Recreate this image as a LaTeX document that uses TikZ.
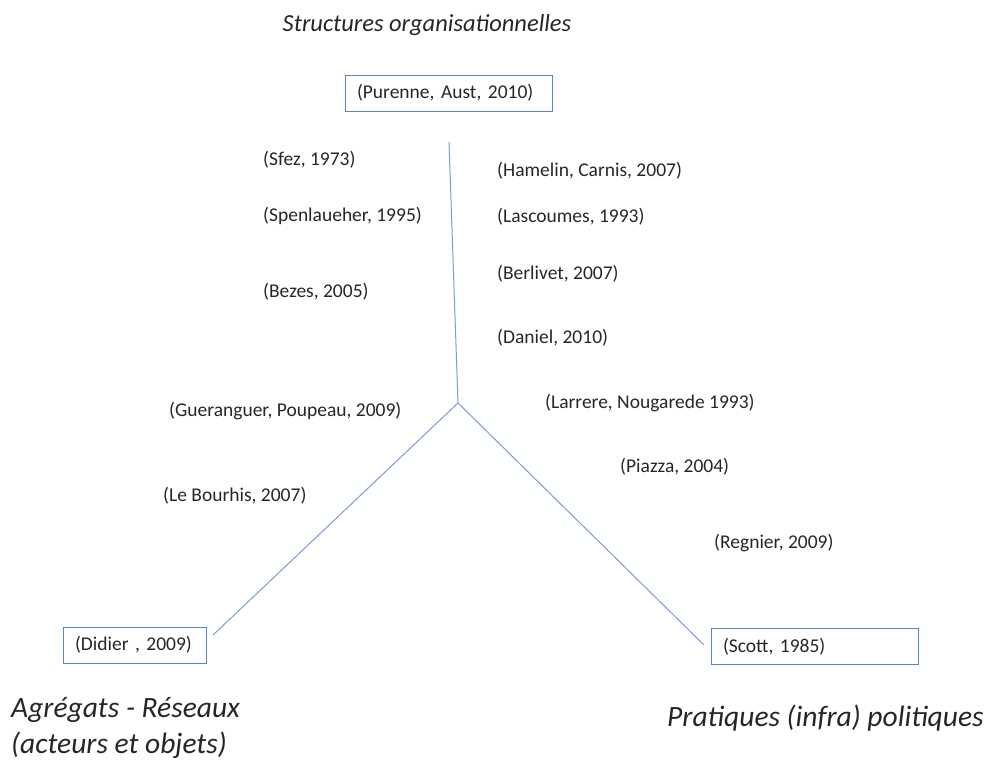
\documentclass[tikz,border=0pt]{standalone}
\usepackage{fontspec}
\setmainfont{Carlito}
\usepackage{tikz}

\definecolor{axisblue}{RGB}{120,158,208}
\definecolor{boxblue}{RGB}{92,132,184}
\definecolor{inkgray}{RGB}{38,38,38}

\tikzset{
  ref/.style={anchor=west, inner sep=0pt, text=inkgray, font=\fontsize{19.5}{23}\selectfont},
  pole/.style={draw=boxblue, line width=0.9pt, text=inkgray, align=left, inner xsep=12pt,
    minimum height=36pt, font=\fontsize{19.5}{23}\selectfont},
  axe/.style={text=inkgray, inner sep=0pt, align=left, font=\fontsize{29.5}{36}\selectfont\itshape},
  branch/.style={draw=axisblue, line width=1pt}
}

\begin{document}
\begin{tikzpicture}[x=1pt, y=-1pt]
\useasboundingbox (0,0) rectangle (992,762);
%%%%%%%%%%%%%%%%%%%%%%%%%%%%%%%
% poles
%%%%%%%%%%%%%%%%%%%%%%%%%%%%%%%
\node [axe, font=\fontsize{24.5}{30}\selectfont\itshape] (titre) at (427,25) {Structures organisationnelles};
\node [axe, anchor=west] (agregats) at (11,728) {Agrégats - Réseaux\\(acteurs et objets)};
\node [axe, anchor=west] (pratiques) at (667,718) {Pratiques (infra) politiques};
%
\node [pole, text width=183pt] (purenne) at (448.5,93) {\mbox{(Purenne, Aust, 2010)}};
\node [pole, text width=119pt] (didier) at (134.5,645) {\mbox{(Didier , 2009)}};
\node [pole, text width=183pt] (scott) at (814.5,646.5) {\mbox{(Scott, 1985)}};
%
\coordinate (centre) at (458,403);
\coordinate (haut) at (449,142);
\coordinate (gauche) at (213,635);
\coordinate (droite) at (704,645);
\draw [branch] (haut) -- (centre);
\draw [branch] (centre) -- (gauche);
\draw [branch] (centre) -- (droite);
%%%%%%%%%%%%%%%%%%%%%%%%%%%%%%%
% references
%%%%%%%%%%%%%%%%%%%%%%%%%%%%%%%
\node [ref] (sfez) at (263,160) {(Sfez, 1973)};
\node [ref] (spenlaueher) at (263,216) {(Spenlaueher, 1995)};
\node [ref] (bezes) at (263,292) {(Bezes, 2005)};
\node [ref] (gueranguer) at (169,411) {(Gueranguer, Poupeau, 2009)};
\node [ref] (bourhis) at (163,496) {(Le Bourhis, 2007)};
%
\node [ref] (hamelin) at (497,171) {(Hamelin, Carnis, 2007)};
\node [ref] (lascoumes) at (497,217) {(Lascoumes, 1993)};
\node [ref] (berlivet) at (497,274) {(Berlivet, 2007)};
\node [ref] (daniel) at (497,338) {(Daniel, 2010)};
\node [ref] (larrere) at (545,403) {(Larrere, Nougarede 1993)};
\node [ref] (piazza) at (620,467) {(Piazza, 2004)};
\node [ref] (regnier) at (714,543) {(Regnier, 2009)};
\end{tikzpicture}
\end{document}
